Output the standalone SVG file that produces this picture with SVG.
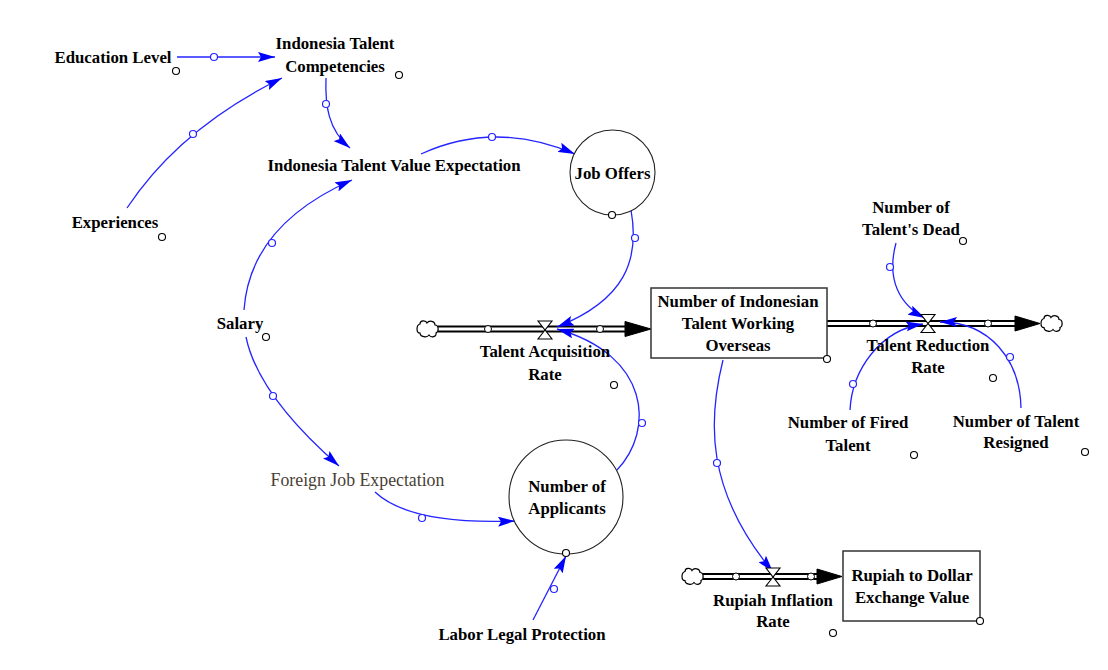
<svg xmlns="http://www.w3.org/2000/svg" xmlns:xlink="http://www.w3.org/1999/xlink" width="1108" height="670" viewBox="0 0 1108 670">
<style>
.t{font-family:"Liberation Serif","Times New Roman",serif;font-weight:bold;font-size:16.8px;fill:#000;text-anchor:middle}
.tr{font-family:"Liberation Serif","Times New Roman",serif;font-size:17.8px;fill:#4a3f35;text-anchor:middle}
.c{fill:none;stroke:#2424ff;stroke-width:1.3}
.h{fill:#fff;stroke:#2424ff;stroke-width:1.2}
.d{fill:#fff;stroke:#000;stroke-width:1.1}
.ph{fill:#fff;stroke:#000;stroke-width:1}
.po{fill:none;stroke:#000;stroke-width:7}
.pi{fill:none;stroke:#fff;stroke-width:3}
.box{fill:#fff;stroke:#333;stroke-width:1.5}
.aux{fill:#fff;stroke:#222;stroke-width:1.1}
.fa{fill:#000;stroke:#000;stroke-width:1}
.cl{fill:#fff;stroke:#000;stroke-width:1.2}
.v{fill:#fff;stroke:#000;stroke-width:1.1}
</style>
<defs>
<marker id="ah" viewBox="0 0 17 10" refX="17" refY="5" markerWidth="17" markerHeight="10" markerUnits="userSpaceOnUse" orient="auto">
<path d="M0,0 L17,5 L0,10 L3,5 Z" fill="#0000ff"/>
</marker>
<path id="cloud" d="M-8,-5 C-8,-9 -2,-9 -1,-6 C1,-9 7,-8 7,-4 C11,-4 11,3 8,4 C9,8 3,9 1,6 C-1,9 -8,8 -8,4 C-12,4 -12,-4 -8,-5 Z"/>
<path id="valve" d="M-7,-9 L7,-9 L0,0 Z M0,0 L-7,9 L7,9 Z"/>
</defs>

<rect width="1108" height="670" fill="#fff"/>

<g id="flows">
<path class="po" d="M438,329 L626,329"/>
<path class="pi" d="M438,329 L627,329"/>
<path class="fa" d="M625,321.5 L651,329 L625,336.5 Z"/>
<use href="#cloud" class="cl" transform="translate(428,329)"/>
<circle class="ph" cx="488" cy="329" r="3.5"/>
<circle class="ph" cx="600" cy="329" r="3.5"/>
<path class="po" d="M827,323.5 L1016,323.5"/>
<path class="pi" d="M826,323.5 L1017,323.5"/>
<path class="fa" d="M1015,316 L1040,323.5 L1015,331 Z"/>
<use href="#cloud" class="cl" transform="translate(1052,323.5)"/>
<circle class="ph" cx="873" cy="323.5" r="3.5"/>
<circle class="ph" cx="988" cy="323.5" r="3.5"/>
<path class="po" d="M703,576.5 L818,576.5"/>
<path class="pi" d="M703,576.5 L819,576.5"/>
<path class="fa" d="M817,569 L842,576.5 L817,584 Z"/>
<use href="#cloud" class="cl" transform="translate(693,576.5)"/>
<circle class="ph" cx="736" cy="576.5" r="3.5"/>
<circle class="ph" cx="811" cy="576.5" r="3.5"/>
</g>

<g id="connectors">
<path class="c" d="M177,57 L275,57" marker-end="url(#ah)"/>
<path class="c" d="M127,208 Q180,128 282,78" marker-end="url(#ah)"/>
<path class="c" d="M326,78 C325,105 328,130 350,148" marker-end="url(#ah)"/>
<path class="c" d="M421,154 Q495,120 575,154" marker-end="url(#ah)"/>
<path class="c" d="M631,210 C640,260 625,300 557,327" marker-end="url(#ah)"/>
<path class="c" d="M244,310 Q250,225 352,180" marker-end="url(#ah)"/>
<path class="c" d="M246,337 Q258,395 339,466" marker-end="url(#ah)"/>
<path class="c" d="M375,492 Q410,525 515,521" marker-end="url(#ah)"/>
<path class="c" d="M533,620 L566,556" marker-end="url(#ah)"/>
<path class="c" d="M617,470 C655,430 650,355 557,329" marker-end="url(#ah)"/>
<path class="c" d="M723,360 C708,420 705,490 773,572" marker-end="url(#ah)"/>
<path class="c" d="M896,243 C886,280 900,305 925,318" marker-end="url(#ah)"/>
<path class="c" d="M850,410 C852,370 880,330 923,324" marker-end="url(#ah)"/>
<path class="c" d="M1021,408 C1020,360 990,322 940,322" marker-end="url(#ah)"/>
<circle class="h" cx="214" cy="57" r="3.5"/>
<circle class="h" cx="193" cy="134" r="3.5"/>
<circle class="h" cx="326" cy="104" r="3.5"/>
<circle class="h" cx="492" cy="137" r="3.5"/>
<circle class="h" cx="635" cy="238" r="3.5"/>
<circle class="h" cx="272" cy="243" r="3.5"/>
<circle class="h" cx="273" cy="396" r="3.5"/>
<circle class="h" cx="422" cy="518" r="3.5"/>
<circle class="h" cx="554" cy="589" r="3.5"/>
<circle class="h" cx="642" cy="423" r="3.5"/>
<circle class="h" cx="717" cy="463" r="3.5"/>
<circle class="h" cx="890" cy="267" r="3.5"/>
<circle class="h" cx="853" cy="384" r="3.5"/>
<circle class="h" cx="1010" cy="357" r="3.5"/>
</g>

<g id="education-level">
<text class="t" x="113" y="63">Education Level</text>
<circle class="d" cx="176" cy="71" r="3.5"/>
</g>
<g id="indonesia-talent-competencies">
<text class="t" x="335" y="49">Indonesia Talent</text>
<text class="t" x="335" y="72">Competencies</text>
<circle class="d" cx="399" cy="75" r="3.5"/>
</g>
<g id="experiences">
<text class="t" x="115" y="228">Experiences</text>
<circle class="d" cx="162" cy="237" r="3.5"/>
</g>
<g id="indonesia-talent-value-expectation">
<text class="t" x="394" y="171">Indonesia Talent Value Expectation</text>
</g>
<g id="job-offers">
<circle class="aux" cx="612.5" cy="172.5" r="42.5"/>
<text class="t" x="612.5" y="179">Job Offers</text>
<circle class="d" cx="612" cy="215" r="3.5"/>
</g>
<g id="salary">
<text class="t" x="240" y="329">Salary</text>
<circle class="d" cx="266" cy="337" r="3.5"/>
</g>
<g id="foreign-job-expectation">
<text class="tr" x="357.5" y="486">Foreign Job Expectation</text>
</g>
<g id="number-of-applicants">
<circle class="aux" cx="566" cy="497" r="57"/>
<text class="t" x="567" y="492">Number of</text>
<text class="t" x="567" y="514">Applicants</text>
<circle class="d" cx="566" cy="553" r="3.5"/>
</g>
<g id="labor-legal-protection">
<text class="t" x="522" y="640">Labor Legal Protection</text>
</g>
<g id="talent-acquisition-rate">
<use href="#valve" class="v" transform="translate(545,330)"/>
<text class="t" x="545" y="357">Talent Acquisition</text>
<text class="t" x="545" y="380">Rate</text>
<circle class="d" cx="614" cy="385" r="3.5"/>
</g>
<g id="number-of-indonesian-talent-working-overseas">
<rect class="box" x="651" y="288" width="176" height="70"/>
<text class="t" x="738" y="307">Number of Indonesian</text>
<text class="t" x="738" y="329">Talent Working</text>
<text class="t" x="738" y="351">Overseas</text>
<circle class="d" cx="827" cy="359" r="3.5"/>
</g>
<g id="talent-reduction-rate">
<use href="#valve" class="v" transform="translate(928,323.5)"/>
<text class="t" x="928" y="351">Talent Reduction</text>
<text class="t" x="928" y="373">Rate</text>
<circle class="d" cx="993" cy="378" r="3.5"/>
</g>
<g id="number-of-talents-dead">
<text class="t" x="911" y="213">Number of</text>
<text class="t" x="911" y="235">Talent's Dead</text>
<circle class="d" cx="963" cy="241" r="3.5"/>
</g>
<g id="number-of-fired-talent">
<text class="t" x="848" y="428">Number of Fired</text>
<text class="t" x="848" y="451">Talent</text>
<circle class="d" cx="914" cy="455" r="3.5"/>
</g>
<g id="number-of-talent-resigned">
<text class="t" x="1016" y="427">Number of Talent</text>
<text class="t" x="1016" y="448">Resigned</text>
<circle class="d" cx="1085" cy="452" r="3.5"/>
</g>
<g id="rupiah-inflation-rate">
<use href="#valve" class="v" transform="translate(773,577)"/>
<text class="t" x="773" y="606">Rupiah Inflation</text>
<text class="t" x="773" y="627">Rate</text>
<circle class="d" cx="833" cy="633" r="3.5"/>
</g>
<g id="rupiah-to-dollar-exchange-value">
<rect class="box" x="843" y="551" width="137" height="70"/>
<text class="t" x="912" y="581">Rupiah to Dollar</text>
<text class="t" x="912" y="603">Exchange Value</text>
<circle class="d" cx="980" cy="621" r="3.5"/>
</g>
</svg>
